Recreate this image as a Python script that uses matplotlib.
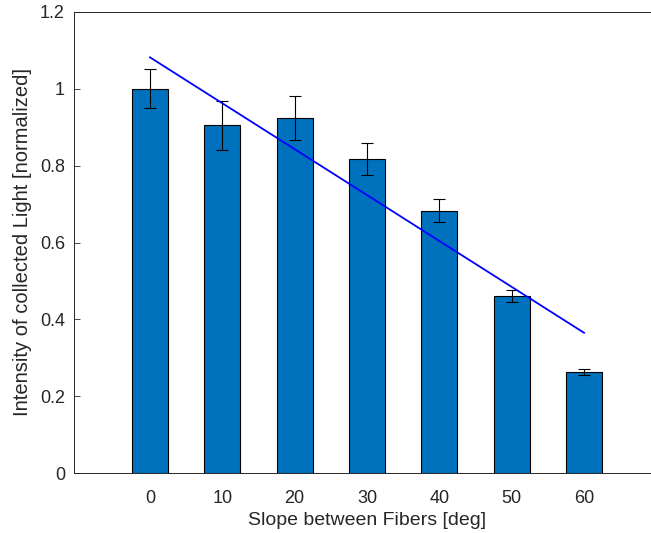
import matplotlib
matplotlib.use("Agg")
import matplotlib.pyplot as plt

slope_deg = [0, 10, 20, 30, 40, 50, 60]
intensity = [1.000, 0.905, 0.925, 0.818, 0.683, 0.460, 0.263]
errors = [0.051, 0.063, 0.057, 0.041, 0.030, 0.016, 0.009]
trend_x = [0, 60]
trend_y = [1.082, 0.365]
xtick_labels = ["0", "10", "20", "30", "40", "50", "60"]
ytick_vals = [0, 0.2, 0.4, 0.6, 0.8, 1.0, 1.2]
ytick_labels = ["0", "0.2", "0.4", "0.6", "0.8", "1", "1.2"]

plt.rcParams['font.family'] = ['Liberation Sans', 'DejaVu Sans']
txt = (0.15, 0.15, 0.15)

fig = plt.figure(figsize=(6.51, 5.33), dpi=100)
ax = fig.add_axes([74/651, 60/533, 586/651, 461/533])

ax.bar(slope_deg, intensity, width=5, color='#0072BD', edgecolor='black', linewidth=0.8, zorder=2)
ax.errorbar(slope_deg, intensity, yerr=errors, fmt='none', ecolor='black', elinewidth=0.8,
            capsize=4, capthick=0.8, zorder=3)
ax.plot(trend_x, trend_y, color=(0, 0, 1), linewidth=1.3, zorder=4)

ax.set_xlim(-10.5, 70.5)
ax.set_ylim(0, 1.2)
ax.set_xticks(slope_deg)
ax.set_xticklabels(xtick_labels)
ax.set_yticks(ytick_vals)
ax.set_yticklabels(ytick_labels)
ax.tick_params(direction='in', length=4, width=0.6, colors=txt, labelsize=13, pad=6.5)
ax.tick_params(axis='x', pad=12)
for s in ['top', 'right', 'left', 'bottom']:
    ax.spines[s].set_color(txt)
    ax.spines[s].set_linewidth(0.7)

ax.set_xlabel('Slope between Fibers [deg]', fontsize=14, color=txt, labelpad=4)
ax.set_ylabel('Intensity of collected Light [normalized]', fontsize=14.5, color=txt, labelpad=6)

fig.savefig('out.png', dpi=100)
